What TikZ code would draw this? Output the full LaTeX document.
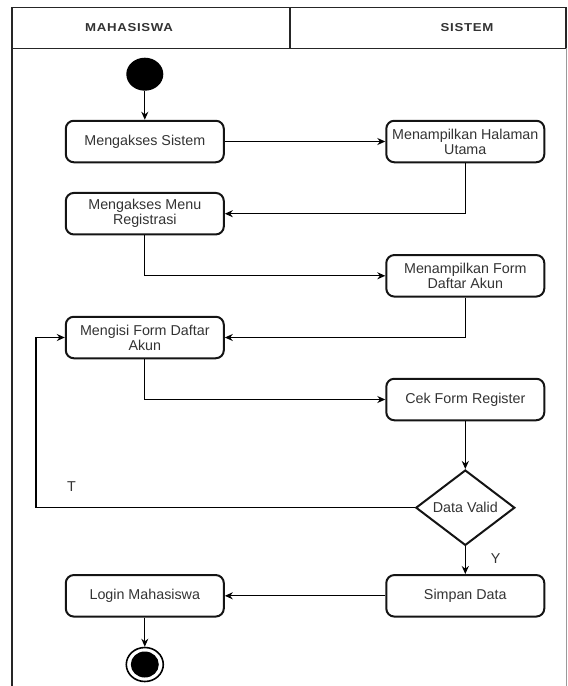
\documentclass[tikz,border=0pt]{standalone}
\usepackage{fontspec}
\setmainfont{Liberation Sans}
\newfontfamily\headfont[FakeStretch=1.15,LetterSpace=6]{Liberation Sans Bold}
\usetikzlibrary{shapes.geometric,arrows.meta}
\definecolor{txt}{HTML}{333333}
\definecolor{edge}{HTML}{141414}
\definecolor{lane}{HTML}{9A9A9A}
\newcommand{\boxfont}{\fontsize{14.3}{15}\selectfont}
\newcommand{\lanefont}{\headfont\fontsize{11.5}{13}\selectfont}
\begin{document}
\begin{tikzpicture}[x=1pt,y=-1pt,
  act/.style={draw=edge, line width=2pt, rounded corners=8pt,
    minimum width=158pt, minimum height=41.5pt, inner sep=0pt,
    align=center, font=\boxfont, text=txt},
  decision/.style={diamond, draw=edge, line width=2pt, inner sep=0pt,
    minimum width=99pt, minimum height=72pt, font=\boxfont, text=txt},
  flow/.style={draw=black, line width=1.2pt, -{Stealth[length=8pt,width=7pt]}},
  frame/.style={draw=black!85, line width=1.5pt},
  lanehead/.style={font=\lanefont, text=txt, inner sep=0pt},
  tag/.style={font=\boxfont, text=txt, inner sep=0pt}]
  \useasboundingbox (0,0) rectangle (568,686);

  % swimlane header and borders
  \draw[frame] (12,7.3) rectangle (566,48.3);
  \draw[frame] (290,7.3) -- (290,48.3);
  \draw[frame] (12,48.3) -- (12,686);
  \draw[draw=lane, line width=1pt] (566,48.3) -- (566,686);
  \node[lanehead] (hmhs) at (129,28) {MAHASISWA};
  \node[lanehead] (hsys) at (467,28) {SISTEM};

  % start state
  \node[ellipse, fill=black, minimum width=37pt, minimum height=33pt, inner sep=0pt] (start) at (144.8,74.2) {};

  % activities
  \node[act] (sistem) at (144.8,141.5) {Mengakses Sistem};
  \node[act] (halaman) at (465.3,141.5) {Menampilkan Halaman\\Utama};
  \node[act] (registrasi) at (144.8,213.7) {Mengakses Menu\\Registrasi};
  \node[act] (formdaftar) at (465.3,275.8) {Menampilkan Form\\Daftar Akun};
  \node[act] (mengisi) at (144.8,337.5) {Mengisi Form Daftar\\Akun};
  \node[act] (cek) at (465.3,399.5) {Cek Form Register};
  \node[decision] (valid) at (465.3,507.7) {Data Valid};
  \node[act] (simpan) at (465.3,595.8) {Simpan Data};
  \node[act] (login) at (144.8,595.8) {Login Mahasiswa};

  % final state
  \node[ellipse, draw=black, line width=1.6pt, fill=white, minimum width=37pt, minimum height=34pt, inner sep=0pt] (finish) at (144.8,664.5) {};
  \node[ellipse, fill=black, minimum width=28pt, minimum height=26pt, inner sep=0pt] (finishdot) at (finish) {};

  % guard labels
  \node[tag] (tguard) at (71.4,486.7) {T};
  \node[tag] (yguard) at (495.7,558.3) {Y};

  \coordinate (loopback) at (36,507.7);

  % control flow
  \draw[flow] (start) -- (sistem);
  \draw[flow] (sistem) -- (halaman);
  \draw[flow] (halaman.south) |- (registrasi.east);
  \draw[flow] (registrasi.south) |- (formdaftar.west);
  \draw[flow] (formdaftar.south) |- (mengisi.east);
  \draw[flow] (mengisi.south) |- (cek.west);
  \draw[flow] (cek) -- (valid);
  \draw[flow] (valid.west) -- (loopback) |- (mengisi.west);
  \draw[flow] (valid) -- (simpan);
  \draw[flow] (simpan) -- (login);
  \draw[flow] (login) -- (finish);
\end{tikzpicture}
\end{document}
